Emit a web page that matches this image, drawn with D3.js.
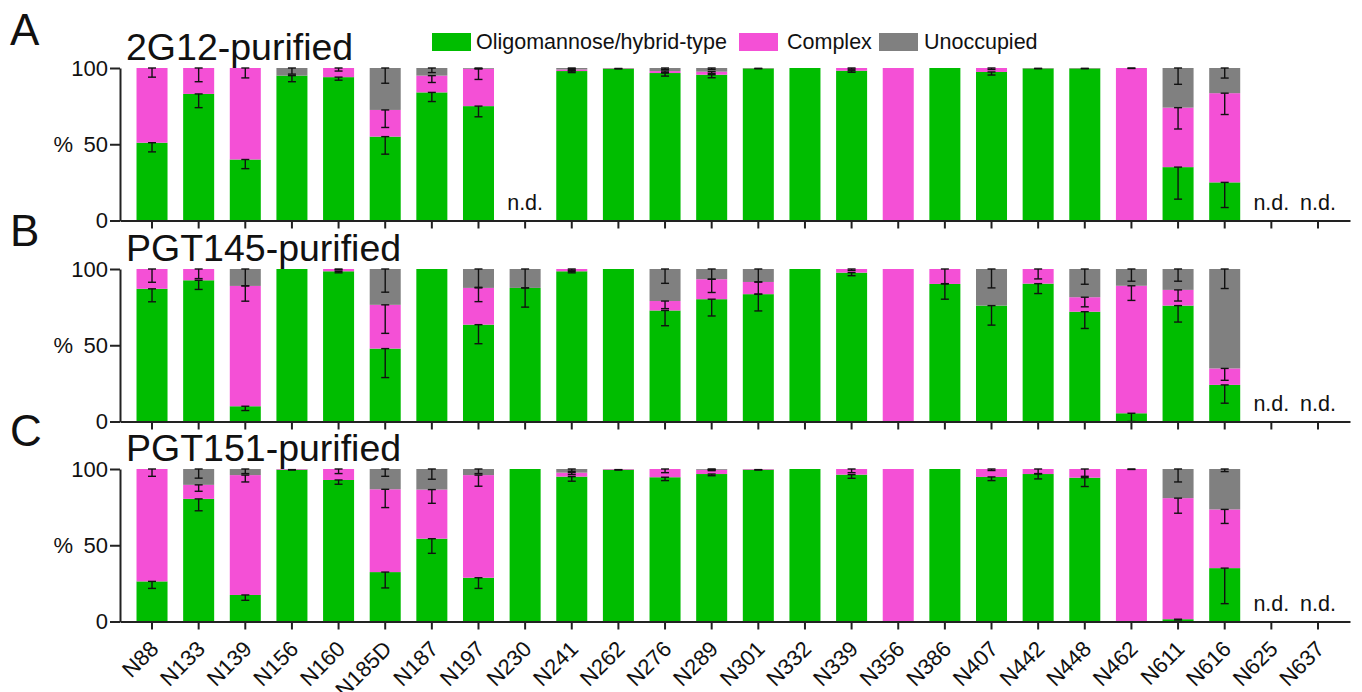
<!DOCTYPE html>
<html>
<head>
<meta charset="utf-8">
<script src="https://cdn.jsdelivr.net/npm/d3@7"></script>
<style>
  html, body { margin: 0; padding: 0; background: #fff; }
  svg { display: block; font-family: "Liberation Sans", Arial, sans-serif; }
</style>
</head>
<body>
<svg id="chart" width="1362" height="692"></svg>
<script>
// Glycan sites along the x axis
const sites = ["N88","N133","N139","N156","N160","N185D","N187","N197","N230","N241","N262","N276","N289","N301","N332","N339","N356","N386","N407","N442","N448","N462","N611","N616","N625","N637"];

const seriesNames = ["Oligomannose/hybrid-type", "Complex", "Unoccupied"];
const yTicks = [0, 50, 100];

// 2G12-purified (%), null = not determined
const oligoA   = [51, 83, 40, 95, 94, 55, 84, 75, null, 98, 99.7, 96.7, 95.6, 99.8, 100, 98.2, 0, 100, 97.4, 99.8, 99.8, 0, 35, 25, null, null];
const complexA = [49, 17, 60, 0, 6, 17.5, 11, 24.5, null, 1, 0.3, 1.3, 2, 0.2, 0, 1.8, 100, 0, 2.6, 0.2, 0.2, 100, 39, 58.5, null, null];
const unoccA   = [0, 0, 0, 5, 0, 27.5, 5, 0.5, null, 1, 0, 2, 2.4, 0, 0, 0, 0, 0, 0, 0, 0, 0, 26, 16.5, null, null];
const oligoErrA   = [6, 9, 6, 4, 2, 11.5, 6, 7, null, 1, 0.3, 2, 2, 0.3, 0, 1, 0, 0, 2, 0.3, 0.3, 0, 21, 16.5, null, null];
const complexErrA = [6, 9, 6.5, 0, 2, 11.5, 4.5, 7, null, 0.8, 0, 1, 1.2, 0, 0, 0.8, 0, 0, 1, 0, 0, 0.3, 14, 14, null, null];
const unoccErrA   = [0, 0, 0, 4, 0, 10, 3, 0.5, null, 0.5, 0, 1, 1, 0, 0, 0, 0, 0, 0, 0, 0, 0, 10.7, 6.6, null, null];

// PGT145-purified (%)
const oligoB   = [87, 92.6, 10, 100, 98.5, 47.8, 100, 63.5, 87.6, 98.5, 100, 72.8, 80.2, 83.5, 100, 97.6, 0, 90.2, 76, 90.4, 72, 5.4, 76, 24, null, null];
const complexB = [13, 7.4, 78.9, 0, 1.5, 28.7, 0, 24.1, 0, 1.5, 0, 6.2, 13.1, 8, 0, 2.4, 100, 9.8, 0, 9.6, 9.5, 83.6, 10.3, 10.8, null, null];
const unoccB   = [0, 0, 11.1, 0, 0, 23.5, 0, 12.4, 12.4, 0, 0, 21, 6.7, 8.5, 0, 0, 0, 0, 24, 0, 18.5, 11, 13.7, 65.2, null, null];
const oligoErrB   = [8.5, 6, 2.8, 0, 1, 19, 0, 12.5, 12.6, 1, 0, 10, 11, 11, 0, 2, 0, 10, 12.8, 6.5, 11, 5.4, 10.8, 12, null, null];
const complexErrB = [8.7, 6.3, 10, 0, 0.5, 18.7, 0, 9, 0, 0.8, 0, 5, 8.7, 8, 0, 1, 0, 9.6, 0, 6.5, 6.3, 9.6, 7.3, 7.8, null, null];
const unoccErrB   = [0, 0, 11, 0, 0, 15.2, 0, 12, 12.4, 0, 0, 9.4, 6.7, 8.5, 0, 0, 0, 0, 12.4, 0, 10, 8, 8, 12.8, null, null];

// PGT151-purified (%)
const oligoC   = [26.3, 80.4, 17.4, 99.6, 92.8, 32.4, 54.3, 28.7, 100, 95, 99.6, 94.6, 96.7, 99.6, 100, 96.3, 0, 100, 94.8, 96.7, 94.3, 0, 1.5, 35, null, null];
const complexC = [73.7, 9.2, 78.6, 0.4, 7.2, 54.3, 32.2, 67.3, 0, 2.6, 0.4, 5.4, 2.8, 0.4, 0, 3.7, 100, 0, 5.2, 3.3, 5.7, 100, 79.4, 38.5, null, null];
const unoccC   = [0, 10.4, 4, 0, 0, 13.3, 13.5, 4, 0, 2.4, 0, 0, 0.5, 0, 0, 0, 0, 0, 0, 0, 0, 0, 19.1, 26.5, null, null];
const oligoErrC   = [4.6, 7.8, 3.5, 0.3, 2.8, 10.4, 9.6, 7, 0, 3, 0.3, 2.2, 1.1, 0.3, 0, 2.4, 0, 0, 2.4, 3.2, 5.8, 0, 0.5, 23.3, null, null];
const complexErrC = [4.8, 4.2, 4.5, 0, 3, 12, 9, 7.3, 0, 1.3, 0, 2.4, 0.6, 0, 0, 2.4, 0, 0, 1, 3, 4.8, 0.3, 9.9, 9.2, null, null];
const unoccErrC   = [0, 6, 3, 0, 0, 4.8, 6.7, 3, 0, 1.5, 0, 0, 0.3, 0, 0, 0, 0, 0, 0, 0, 0, 0, 8.5, 1.7, null, null];

const panels = [
  { letter: "A", title: "2G12-purified",   values: [oligoA, complexA, unoccA], errors: [oligoErrA, complexErrA, unoccErrA] },
  { letter: "B", title: "PGT145-purified", values: [oligoB, complexB, unoccB], errors: [oligoErrB, complexErrB, unoccErrB] },
  { letter: "C", title: "PGT151-purified", values: [oligoC, complexC, unoccC], errors: [oligoErrC, complexErrC, unoccErrC] }
];

const colors = ["#00bd00", "#f450d6", "#808080"];

const svg = d3.select("#chart");
const x = d3.scaleBand().domain(sites).range([120, 1350]).paddingInner(0.335).paddingOuter(0.354);

const panelTop = [68, 269, 469];
const panelH = 152.5;

panels.forEach((p, pi) => {
  const top = panelTop[pi];
  const y = d3.scaleLinear().domain([0, 100]).range([top + panelH, top]);
  const g = svg.append("g");

  // stacked segments
  sites.forEach((site, i) => {
    if (p.values[0][i] === null) return;
    let base = 0;
    const segs = [];
    p.values.forEach((vals, si) => {
      const v = vals[i];
      segs.push({ si, lo: base, hi: base + v, err: p.errors[si][i] });
      base += v;
    });
    segs.forEach(s => {
      if (s.hi - s.lo <= 0) return;
      g.append("rect")
        .attr("x", x(site))
        .attr("width", x.bandwidth())
        .attr("y", y(s.hi))
        .attr("height", y(s.lo) - y(s.hi))
        .attr("fill", colors[s.si]);
    });
    // error bars, drawn downward from each segment top
    segs.forEach(s => {
      if (s.hi - s.lo <= 0 || !s.err) return;
      const cx = x(site) + x.bandwidth() / 2;
      const y1 = y(s.hi), y2 = y(s.hi - s.err);
      const eg = g.append("g").attr("stroke", "#111").attr("stroke-width", 1.4).attr("fill", "none");
      eg.append("line").attr("x1", cx).attr("x2", cx).attr("y1", y1).attr("y2", y2);
      eg.append("line").attr("x1", cx - 4).attr("x2", cx + 4).attr("y1", y2).attr("y2", y2);
      eg.append("line").attr("x1", cx - 4).attr("x2", cx + 4).attr("y1", y1).attr("y2", y1);
    });
  });

  // not determined sites
  sites.forEach((site, i) => {
    if (p.values[0][i] !== null) return;
    g.append("text")
      .attr("x", x(site) + x.bandwidth() / 2)
      .attr("y", y(0) - 11)
      .attr("text-anchor", "middle")
      .attr("font-size", 21.5)
      .attr("fill", "#111")
      .text("n.d.");
  });

  // y axis
  const ya = g.append("g")
    .attr("transform", "translate(120,0)")
    .call(d3.axisLeft(y).tickValues(yTicks).tickSize(10).tickSizeOuter(0).tickPadding(2));
  ya.select(".domain").attr("stroke", "#222").attr("stroke-width", 2);
  ya.selectAll(".tick line").attr("stroke", "#222").attr("stroke-width", 2);
  ya.selectAll(".tick text").attr("font-size", 22).attr("fill", "#111").attr("font-family", "Liberation Sans, Arial, sans-serif");

  g.append("text")
    .attr("x", 73).attr("y", y(50))
    .attr("dy", "0.35em")
    .attr("text-anchor", "end")
    .attr("font-size", 22)
    .attr("fill", "#111")
    .text("%");

  // x axis
  const xa = g.append("g")
    .attr("transform", `translate(0,${y(0)})`)
    .call(d3.axisBottom(x).tickSize(8).tickSizeOuter(0).tickFormat(pi === 2 ? d => d : () => ""));
  xa.select(".domain").attr("stroke", "#222").attr("stroke-width", 2);
  xa.selectAll(".tick line").attr("stroke", "#222").attr("stroke-width", 2);
  if (pi === 2) {
    xa.selectAll(".tick text")
      .attr("font-size", 22)
      .attr("fill", "#111")
      .attr("font-family", "Liberation Sans, Arial, sans-serif")
      .attr("text-anchor", "end")
      .attr("dy", 0)
      .attr("transform", "translate(0,21) rotate(-45)");
  }

  // panel letter and title
  g.append("text")
    .attr("x", 10).attr("y", top - 23)
    .attr("font-size", 44)
    .attr("fill", "#111")
    .text(p.letter);
  g.append("text")
    .attr("x", 126).attr("y", top - 8)
    .attr("font-size", 37.5)
    .attr("fill", "#111")
    .text(p.title);
});

// legend
const legendX = [432, 739, 879];
const legendTextX = [476, 787, 924];
const legend = svg.append("g");
seriesNames.forEach((name, i) => {
  legend.append("rect")
    .attr("x", legendX[i]).attr("y", 33)
    .attr("width", 39).attr("height", 18)
    .attr("fill", colors[i]);
  legend.append("text")
    .attr("x", legendTextX[i]).attr("y", 49)
    .attr("font-size", 21.5)
    .attr("fill", "#111")
    .text(name);
});
</script>
</body>
</html>
